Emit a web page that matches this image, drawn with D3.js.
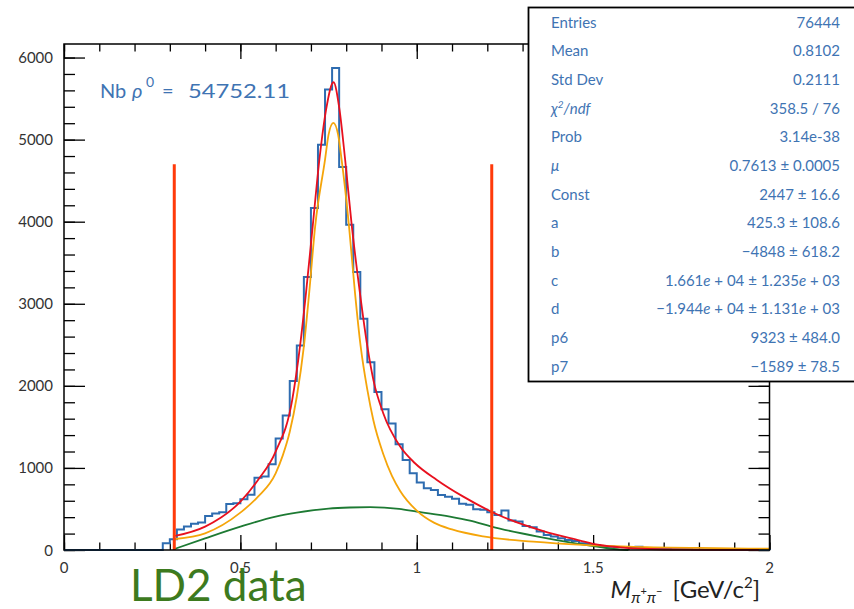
<!DOCTYPE html>
<html>
<head>
<meta charset="utf-8">
<script src="https://cdn.jsdelivr.net/npm/d3@7"></script>
<style>
  body { margin: 0; background: #fff; }
  text { font-family: Lato, "Open Sans", sans-serif; }
</style>
</head>
<body>
<script>
// histogram: 100 bins of 0.02 GeV from 0 to 2
var binWidth = 0.02
var counts = [
  0,0,0,0,0,0,0,0,0,0, 0,0,0,0,81,130,250,285,320,335,
  415,445,460,560,570,618,672,880,895,1045, 1360,1640,2060,2492,3325,4167,4939,5610,5874,4667,
  3963,3386,2817,2289,1925,1716,1540,1289,1098,935, 821,752,732,671,650,625,565,552,496,490,
  459,427,480,358,346,293,276,224,183,163, 142,122,110,81,73,61,49,41,37,34,
  32,40,25,18,14,12,10,9,8,7, 6,5,5,4,3,3,2,2,1,1
]

// fit curves
var totalX = [0.315,0.4,0.5,0.55,0.6,0.647,0.669,0.686,0.705,0.724,0.743,0.764,0.781,0.797,0.816,0.839,0.86,0.877,0.905,0.953,0.995,1.057,1.132,1.227,1.359,1.463,1.5,1.577,1.66,1.75,1.97]
var totalY = [171,285,590,854,1199,1829,2480,3130,3943,4756,5366,5699,5366,4756,3943,3130,2480,2073,1667,1260,1057,854,650,435,230,115,75,33,12,4,1]

var bwX = [0.315,0.4,0.5,0.55,0.6,0.62,0.64,0.66,0.68,0.695,0.712,0.74,0.75,0.7636,0.777,0.787,0.808,0.825,0.841,0.86,0.877,0.905,0.93,0.953,1.0,1.05,1.1,1.188,1.33,1.47,1.6,1.8,2.0]
var bwY = [134,203,455,650,935,1150,1440,1870,2480,3130,3943,4756,5060,5203,5060,4756,3943,3130,2480,1950,1580,1170,900,720,480,330,250,165,102,63,42,25,15]

var bkgX = [0.315,0.4,0.5,0.6,0.66,0.75,0.81,0.868,0.95,1.0,1.094,1.151,1.212,1.34,1.45,1.52,1.577,1.6]
var bkgY = [15,142,285,407,455,505,518,522,500,467,407,358,285,165,80,35,5,0]

var fitRange = [0.3126, 1.2126]
var fitLineTop = 4700

var xMajor = [0, 0.5, 1, 1.5, 2]
var xMinor = d3.range(0, 2.001, 0.1)
var yMajor = [0, 1000, 2000, 3000, 4000, 5000, 6000]
var yMinor = d3.range(0, 6001, 200)

var statLabels = ["Entries","Mean","Std Dev","χ2/ndf","Prob","μ","Const","a","b","c","d","p6","p7"]
var statValues = ["76444","0.8102","0.2111","358.5 / 76","3.14e-38","0.7613 ± 0.0005","2447 ± 16.6",
  "425.3 ± 108.6","−4848 ± 618.2","1.661e + 04 ± 1.235e + 03","−1.944e + 04 ± 1.131e + 03","9323 ± 484.0","−1589 ± 78.5"]

var nbText = "54752.11"

var W = 854, H = 609
// frame edges (avoid the global "top")
var fLeft = 64, fRight = 769.5, fTop = 44, fBottom = 550

var svg = d3.select("body").append("svg")
  .attr("width", W).attr("height", H)

var x = d3.scaleLinear().domain([0, 2]).range([fLeft, fRight])
var y = d3.scaleLinear().domain([0, 6165]).range([fBottom, fTop])

// axes ticks (ROOT style, inside the frame)
function tickAxis(axis, values, size, tx, ty) {
  svg.append("g")
    .attr("transform", "translate(" + tx + "," + ty + ")")
    .call(axis.tickValues(values).tickSize(size).tickFormat(""))
    .call(function(g) { g.select(".domain").remove() })
    .selectAll("line").attr("stroke", "#000").attr("stroke-width", 1.3)
}
tickAxis(d3.axisBottom(x), xMinor, -7.5, 0, fBottom)
tickAxis(d3.axisBottom(x), xMajor, -15, 0, fBottom)
tickAxis(d3.axisTop(x), xMinor, -7.5, 0, fTop)
tickAxis(d3.axisTop(x), xMajor, -15, 0, fTop)
tickAxis(d3.axisLeft(y), yMinor, -11, fLeft, 0)
tickAxis(d3.axisLeft(y), yMajor, -21, fLeft, 0)
tickAxis(d3.axisRight(y), yMinor, -11, fRight, 0)
tickAxis(d3.axisRight(y), yMajor, -21, fRight, 0)

// tick labels
svg.append("g").selectAll("text").data(xMajor).join("text")
  .attr("x", function(d) { return x(d) })
  .attr("y", 573)
  .attr("text-anchor", "middle")
  .attr("font-size", 15)
  .attr("fill", "#333")
  .text(function(d) { return d })

svg.append("g").selectAll("text").data(yMajor).join("text")
  .attr("x", 53)
  .attr("y", function(d) { return y(d) + 5.5 })
  .attr("text-anchor", "end")
  .attr("font-size", 15)
  .attr("fill", "#333")
  .text(function(d) { return d })

// histogram outline
var steps = [[0, 0]]
counts.forEach(function(c, i) {
  steps.push([i * binWidth, c])
  steps.push([(i + 1) * binWidth, c])
})
steps.push([2, 0])

var stepLine = d3.line()
  .x(function(d) { return x(d[0]) })
  .y(function(d) { return y(d[1]) })

svg.append("path")
  .attr("d", stepLine(steps))
  .attr("fill", "none")
  .attr("stroke", "#2e6cb0")
  .attr("stroke-width", 2)

// fit functions
var fitLine = d3.line()
  .x(function(d) { return x(d[0]) })
  .y(function(d) { return y(d[1]) })
  .curve(d3.curveMonotoneX)

function drawCurve(xs, ys, color) {
  svg.append("path")
    .attr("d", fitLine(d3.zip(xs, ys)))
    .attr("fill", "none")
    .attr("stroke", color)
    .attr("stroke-width", 1.8)
}
drawCurve(bkgX, bkgY, "#1d7a33")
drawCurve(bwX, bwY, "#f5a50a")
drawCurve(totalX, totalY, "#e8101e")

// fit range markers
svg.append("g").selectAll("line").data(fitRange).join("line")
  .attr("x1", function(d) { return x(d) })
  .attr("x2", function(d) { return x(d) })
  .attr("y1", y(0))
  .attr("y2", y(fitLineTop))
  .attr("stroke", "#ff3a0a")
  .attr("stroke-width", 3)

// frame
svg.append("rect")
  .attr("x", fLeft).attr("y", fTop)
  .attr("width", fRight - fLeft).attr("height", fBottom - fTop)
  .attr("fill", "none")
  .attr("stroke", "#000")
  .attr("stroke-width", 1.5)

// Nb rho0 label
var nb = svg.append("g").attr("font-size", 20).attr("fill", "#3f74b3")
nb.append("text").attr("x", 100).attr("y", 98).text("Nb")
nb.append("text").attr("x", 132).attr("y", 98)
  .attr("font-style", "italic").attr("font-family", "DejaVu Serif").text("ρ")
nb.append("text").attr("x", 146).attr("y", 87).attr("font-size", 14).text("0")
nb.append("text").attr("x", 162).attr("y", 98).text("=")
nb.append("text").attr("x", 188).attr("y", 98)
  .attr("textLength", 102).attr("lengthAdjust", "spacingAndGlyphs").text(nbText)

// x axis title
var xt = svg.append("text")
  .attr("x", 760).attr("y", 598)
  .attr("text-anchor", "end")
  .attr("font-family", "DejaVu Serif, serif")
  .attr("font-size", 24)
  .attr("fill", "#222")
xt.append("tspan").attr("font-style", "italic").text("M")
xt.append("tspan").attr("font-style", "italic").attr("font-size", 16).attr("dy", 5).text("π")
xt.append("tspan").attr("font-size", 11).attr("dy", -8).text("+")
xt.append("tspan").attr("font-style", "italic").attr("font-size", 16).attr("dy", 8).text("π")
xt.append("tspan").attr("font-size", 11).attr("dy", -8).text("−")
xt.append("tspan").attr("dy", 3).attr("dx", 10).text("[GeV/c")
xt.append("tspan").attr("font-size", 15).attr("dy", -10).text("2")
xt.append("tspan").attr("dy", 10).text("]")

// LD2 data
svg.append("text")
  .attr("x", 130).attr("y", 601)
  .attr("font-size", 44)
  .attr("fill", "#3d7a1e")
  .text("LD2 data")

// stats box
svg.append("rect")
  .attr("x", 528.5).attr("y", 7.5)
  .attr("width", 340).attr("height", 374)
  .attr("fill", "#fff")
  .attr("stroke", "#000")
  .attr("stroke-width", 1.8)

var rowY = function(i) { return 22.7 + i * 28.66 }
var stats = svg.append("g").attr("font-size", 15).attr("fill", "#3f74b3")

stats.selectAll("text.lab").data(statLabels).join("text")
  .attr("class", "lab")
  .attr("x", 551)
  .attr("y", function(d, i) { return rowY(i) + 5 })
  .each(function(d) {
    var t = d3.select(this)
    if (d === "χ2/ndf") {
      t.attr("font-style", "italic")
      t.append("tspan").text("χ")
      t.append("tspan").attr("font-size", 10).attr("dy", -6).text("2")
      t.append("tspan").attr("dy", 6).text("/ndf")
    } else if (d === "μ") {
      t.attr("font-style", "italic").text(d)
    } else {
      t.text(d)
    }
  })

stats.selectAll("text.val").data(statValues).join("text")
  .attr("class", "val")
  .attr("x", 840)
  .attr("y", function(d, i) { return rowY(i) + 5 })
  .attr("text-anchor", "end")
  .each(function(d) {
    var t = d3.select(this)
    // italic "e" in scientific values
    d.split(/(e \+)/).forEach(function(part) {
      if (part === "e +") {
        t.append("tspan").attr("font-style", "italic").text("e")
        t.append("tspan").text(" +")
      } else {
        t.append("tspan").text(part)
      }
    })
  })
</script>
</body>
</html>
